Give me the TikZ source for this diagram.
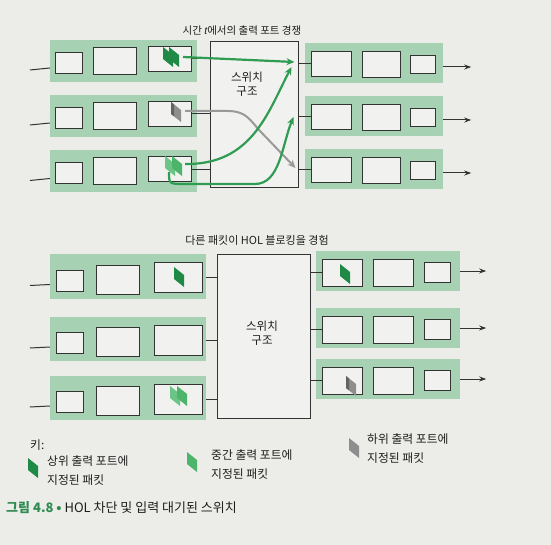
\documentclass[tikz,border=0pt]{standalone}
\usepackage{fontspec}
\setmainfont{Noto Sans CJK KR}
\newfontfamily\latinit{Liberation Sans}
\usetikzlibrary{arrows.meta,calc}
\definecolor{paper}{HTML}{ECECE9}
\definecolor{boxfill}{HTML}{F1F1EF}
\definecolor{bandgreen}{HTML}{A6D1B2}
\definecolor{boxline}{HTML}{333333}
\definecolor{arrowgreen}{HTML}{2F9C52}
\definecolor{pkdark}{HTML}{1F8A45}
\definecolor{pkmid}{HTML}{4DB46B}
\definecolor{pkmidback}{HTML}{6CC487}
\definecolor{pkgray}{HTML}{8E8E8E}
\definecolor{captiongreen}{HTML}{2E8B4F}
\definecolor{textcol}{HTML}{1E1E1E}
\tikzset{
  band/.style={fill=bandgreen, draw=none, inner sep=0pt},
  qbox/.style={draw=boxline, fill=boxfill, line width=1pt, inner sep=0pt},
  switchbox/.style={draw=boxline, fill=boxfill, line width=1pt, inner sep=0pt},
  wire/.style={draw=boxline, line width=1pt},
  outarrow/.style={draw=boxline, line width=1pt, -{Stealth[length=7pt,width=5pt]}},
  garrow/.style={draw=arrowgreen, line width=2.2pt, -{Stealth[length=8pt,width=7pt]}},
  grayarrow/.style={draw=pkgray!90, line width=2pt, -{Stealth[length=8pt,width=7pt]}},
  lbl/.style={text=textcol, inner sep=0pt, font=\fontsize{10.5pt}{12pt}\selectfont},
  keylbl/.style={text=textcol, inner sep=0pt, align=left, anchor=west, font=\fontsize{11.8pt}{19pt}\selectfont},
}
% packet: #1 x, #2 y (top-left), #3 colour
\newcommand\pkt[3]{\fill[#3] (#1,#2) -- ++(10,8) -- ++(0,12) -- ++(-10,-8) -- cycle;}
% input row (top figure): #1 name, #2 y centre
\newcommand\inrowA[2]{%
  \node[band, minimum width=147pt, minimum height=42pt] (#1band) at (123.5,#2) {};
  \node[qbox, minimum width=27pt, minimum height=21pt] (#1a) at (68.5,#2+2) {};
  \node[qbox, minimum width=43pt, minimum height=27pt] (#1b) at (114.5,#2) {};
  \node[qbox, minimum width=43pt, minimum height=25pt] (#1c) at (169.5,#2-2) {};
  \coordinate (#1in) at ($(#1band.west)+(-20,9)$);
  \draw[wire] (#1in) -- ($(#1band.west)+(0,7)$);
}
\newcommand\outrowA[2]{%
  \node[band, minimum width=138pt, minimum height=40pt] (#1band) at (374,#2) {};
  \node[qbox, minimum width=40pt, minimum height=25pt] (#1a) at (331,#2+1) {};
  \node[qbox, minimum width=38pt, minimum height=26pt] (#1b) at (381,#2+2) {};
  \node[qbox, minimum width=25pt, minimum height=18pt] (#1c) at (422.5,#2+2) {};
  \coordinate (#1out) at ($(#1band.east)+(28,4)$);
  \draw[outarrow] ($(#1band.east)+(0,4)$) -- (#1out);
}
\newcommand\inrowB[2]{%
  \node[band, minimum width=156pt, minimum height=44pt] (#1band) at (128,#2) {};
  \node[qbox, minimum width=27pt, minimum height=21pt] (#1a) at (69.5,#2+4) {};
  \node[qbox, minimum width=43pt, minimum height=29pt] (#1b) at (117.5,#2+3) {};
  \node[qbox, minimum width=48pt, minimum height=30pt] (#1c) at (178,#2+1) {};
  \coordinate (#1in) at ($(#1band.west)+(-20,9)$);
  \draw[wire] (#1in) -- ($(#1band.west)+(0,8)$);
}
\newcommand\outrowB[2]{%
  \node[band, minimum width=144pt, minimum height=40pt] (#1band) at (388,#2) {};
  \node[qbox, minimum width=40pt, minimum height=27pt] (#1a) at (342,#2+1.5) {};
  \node[qbox, minimum width=40pt, minimum height=27pt] (#1b) at (393,#2+1.5) {};
  \node[qbox, minimum width=26pt, minimum height=20pt] (#1c) at (437,#2+1) {};
  \coordinate (#1out) at ($(#1band.east)+(26,0)$);
  \draw[outarrow] (#1band.east) -- (#1out);
}
\begin{document}
\begin{tikzpicture}[x=1pt,y=-1pt]
\useasboundingbox (0,0) rectangle (551,545);
\fill[paper] (0,0) rectangle (551,545);

% ================= TOP FIGURE =================
\node[lbl] (title1) at (242,31) {시간 {\latinit\itshape t}에서의 출력 포트 경쟁};
\node[switchbox, minimum width=88pt, minimum height=146pt] (sw1) at (254,115) {};
\node[lbl, align=center, font=\fontsize{11.5pt}{14pt}\selectfont] (sw1lbl) at (247,84) {스위치\\구조};

\inrowA{ti1}{61}
\inrowA{ti2}{116}
\inrowA{ti3}{171.5}
\outrowA{to1}{63}
\outrowA{to2}{116}
\outrowA{to3}{169}

% wires input -> switch
\foreach \r in {ti1,ti2,ti3} {
  \draw[wire] (\r c.east) -- (\r c.east -| sw1.west);
}
% wires switch -> output
\foreach \r in {to1,to2,to3} {
  \draw[wire] (\r a.west -| sw1.east) -- (\r a.west);
}

% packets top
\pkt{163}{47}{pkdark}
\pkt{169}{47}{pkdark}
\pkt{171}{102}{pkgray}
\fill[pkgray!70!black] (171,102) -- ++(3,2.4) -- ++(0,12) -- ++(-3,-2.4) -- cycle;
\pkt{165}{156}{pkmidback}
\pkt{172}{156}{pkmid}

% arrows top
\coordinate (g0) at (185,111);
\coordinate (gend) at ($(to3a.west -| sw1.east)+(-3,-2)$);
\draw[grayarrow] (g0) -- (228,111) .. controls (246,111) and (250,120) .. (260,131) -- (gend);
\coordinate (a1s) at (183,57);
\coordinate (a1e) at ($(to1a.west -| sw1.east)+(-4,-2)$);
\draw[garrow] (a1s) -- (a1e);
\coordinate (a2s) at (185,164);
\coordinate (a2e) at ($(to1a.west -| sw1.east)+(-7,3)$);
\draw[garrow] (a2s) .. controls (252,165) and (268,112) .. (a2e);
\coordinate (a3s) at (169,172);
\coordinate (a3e) at ($(to2a.west -| sw1.east)+(-5,0)$);
\draw[garrow] (a3s) .. controls (169,184) .. (185,184) -- (255,184) .. controls (280,184) and (282,145) .. (a3e);

% ================= BOTTOM FIGURE =================
\node[lbl, font=\fontsize{11pt}{13pt}\selectfont] (title2) at (257,240) {다른 패킷이 HOL 블로킹을 경험};
\node[switchbox, minimum width=93pt, minimum height=163pt] (sw2) at (263.5,336.5) {};
\node[lbl, align=center, font=\fontsize{11.5pt}{14pt}\selectfont] (sw2lbl) at (262,333) {스위치\\구조};

\inrowB{bi1}{276.5}
\inrowB{bi2}{339}
\inrowB{bi3}{398}
\outrowB{bo1}{271}
\outrowB{bo2}{328}
\outrowB{bo3}{379}

\foreach \r in {bi1,bi2,bi3} {
  \draw[wire] (\r band.east |- \r c.east) -- (\r c.east -| sw2.west);
}
\foreach \r in {bo1,bo2,bo3} {
  \draw[wire] (\r a.west -| sw2.east) -- (\r a.west);
}

% packets bottom
\pkt{174}{267}{pkdark}
\pkt{170}{386}{pkmidback}
\pkt{177}{386}{pkmid}
\pkt{340}{264}{pkdark}
\pkt{346}{376}{pkgray}
\fill[pkgray!70!black] (346,376) -- ++(3,2.4) -- ++(0,12) -- ++(-3,-2.4) -- cycle;

% ================= KEY =================
\node[keylbl] (keyt) at (30,445) {키:};
\pkt{28}{458}{pkdark}
\node[keylbl] (key1) at (47,471) {상위 출력 포트에\\지정된 패킷};
\pkt{187}{452}{pkmid}
\node[keylbl] (key2) at (211,465) {중간 출력 포트에\\지정된 패킷};
\pkt{349}{438}{pkgray}
\node[keylbl] (key3) at (367,449) {하위 출력 포트에\\지정된 패킷};

% caption
\node[anchor=west, inner sep=0pt, font=\fontsize{13pt}{15pt}\selectfont, text=textcol] (cap) at (6,508)
  {{\color{captiongreen}\bfseries 그림 4.8 •} HOL 차단 및 입력 대기된 스위치};
\end{tikzpicture}
\end{document}
